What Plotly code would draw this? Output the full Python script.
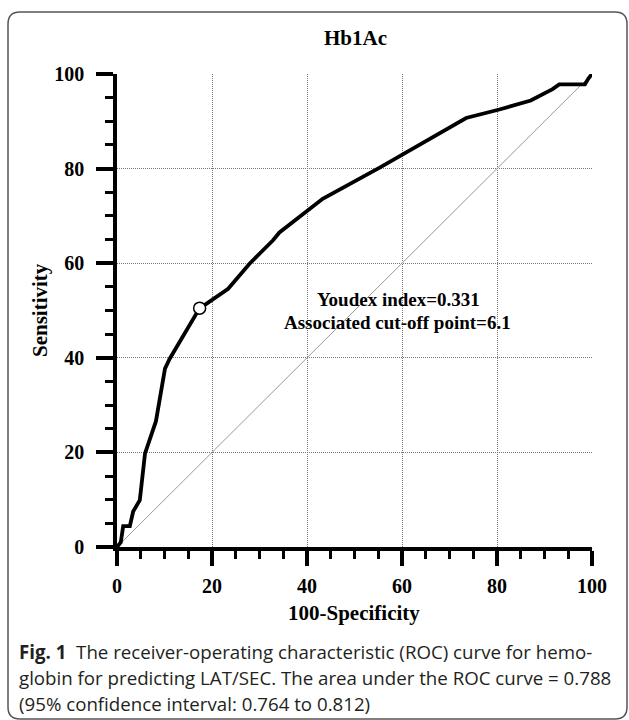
import plotly.graph_objects as go

# ROC curve (100-Specificity, Sensitivity)
fpr = [0, 0.8, 1.3, 2.7, 3.4, 4.1, 4.8, 5.9, 6.9, 8.2, 10.1, 11.1, 17.4, 18.8, 23.4,
       27.9, 32.8, 34.2, 43.3, 55.3, 73.5, 76.3, 80.5, 87.1, 91.7, 93.1, 98.5, 99.2, 100]
tpr = [0, 1.0, 4.4, 4.4, 7.5, 8.9, 9.9, 19.8, 23.0, 26.6, 37.7, 39.8, 50.5, 51.4, 54.6,
       59.9, 64.8, 66.5, 73.6, 80.2, 90.7, 91.4, 92.5, 94.4, 96.8, 97.8, 97.8, 99.0, 100]
ref_line = [0, 100]
cutoff_x = [17.4]
cutoff_y = [50.5]
tick_vals = [0, 20, 40, 60, 80, 100]
tick_text = ["0", "20", "40", "60", "80", "100"]

W, H = 629, 720
L, R, T, B = 117, 37, 74, 173
PW, PH = W - L - R, H - T - B


def px(xp):
    return (xp - L) / PW


def py(yp):
    return (H - B - yp) / PH


SERIF = "Liberation Serif"
SANS = "Open Sans"

fig = go.Figure()
fig.add_trace(go.Scatter(x=ref_line, y=ref_line, mode="lines",
                         line=dict(color="#999999", width=1), hoverinfo="skip"))
fig.add_trace(go.Scatter(x=fpr, y=tpr, mode="lines",
                         line=dict(color="black", width=3.8)))
fig.add_trace(go.Scatter(x=cutoff_x, y=cutoff_y, mode="markers",
                         marker=dict(size=12, color="white",
                                     line=dict(color="black", width=1.5))))

axis_common = dict(
    range=[0, 100], tickvals=tick_vals, ticktext=tick_text,
    showline=True, linecolor="black", linewidth=3.5,
    ticks="outside", tickwidth=3.5, tickcolor="black",
    showgrid=True, gridcolor="#777777", gridwidth=1, griddash="1px,1px",
    zeroline=False,
    tickfont=dict(family=SERIF, size=20, color="black", weight="bold"),
    minor=dict(dtick=5, ticks="outside", ticklen=8, tickwidth=2.5,
               tickcolor="black", showgrid=False),
)

fig.update_xaxes(**axis_common, ticklen=15, ticklabelstandoff=3)
fig.update_yaxes(**axis_common, ticklen=17, ticklabelstandoff=8)

annos = [
    dict(text="<b>Hb1Ac</b>", x=px(355), y=py(38), font=dict(family=SERIF, size=21)),
    dict(text="<b>Sensitivity</b>", x=px(40), y=py(310), textangle=-90,
         font=dict(family=SERIF, size=21)),
    dict(text="<b>100-Specificity</b>", x=px(354), y=py(613),
         font=dict(family=SERIF, size=21)),
    dict(text="<b>Youdex index=0.331</b>", x=px(398), y=py(299),
         font=dict(family=SERIF, size=19)),
    dict(text="<b>Associated cut-off point=6.1</b>", x=px(397), y=py(322),
         font=dict(family=SERIF, size=19)),
    dict(text="<b>Fig. 1</b>  The receiver-operating characteristic (ROC) curve for hemo-",
         x=px(17), y=py(651), xanchor="left", font=dict(family=SANS, size=18.7, color="#231f20")),
    dict(text="globin for predicting LAT/SEC. The area under the ROC curve = 0.788",
         x=px(17), y=py(677), xanchor="left", font=dict(family=SANS, size=18.7, color="#231f20")),
    dict(text="(95% confidence interval: 0.764 to 0.812)",
         x=px(17), y=py(703), xanchor="left", font=dict(family=SANS, size=18.7, color="#231f20")),
]
for a in annos:
    a.setdefault("xanchor", "center")
    a.update(xref="paper", yref="paper", yanchor="middle", showarrow=False)
    a["font"].setdefault("color", "black")
    fig.add_annotation(**a)

# rounded panel border
x0, y0, x1, y1, r = px(8), py(12), px(627), py(719), 12 / PW
path = (f"M {x0 + r},{y0} L {x1 - r},{y0} Q {x1},{y0} {x1},{y0 - r} "
        f"L {x1},{y1 + r} Q {x1},{y1} {x1 - r},{y1} L {x0 + r},{y1} "
        f"Q {x0},{y1} {x0},{y1 + r} L {x0},{y0 - r} Q {x0},{y0} {x0 + r},{y0} Z")
fig.add_shape(type="path", path=path, xref="paper", yref="paper",
              line=dict(color="#555555", width=1.5), layer="below")

fig.update_layout(
    width=W, height=H, margin=dict(l=L, r=R, t=T, b=B),
    paper_bgcolor="white", plot_bgcolor="white", showlegend=False,
)

fig.write_html("out.html", config={"displayModeBar": False},
               post_script="document.body.style.margin='0';"
                           "document.body.style.overflow='hidden';")
